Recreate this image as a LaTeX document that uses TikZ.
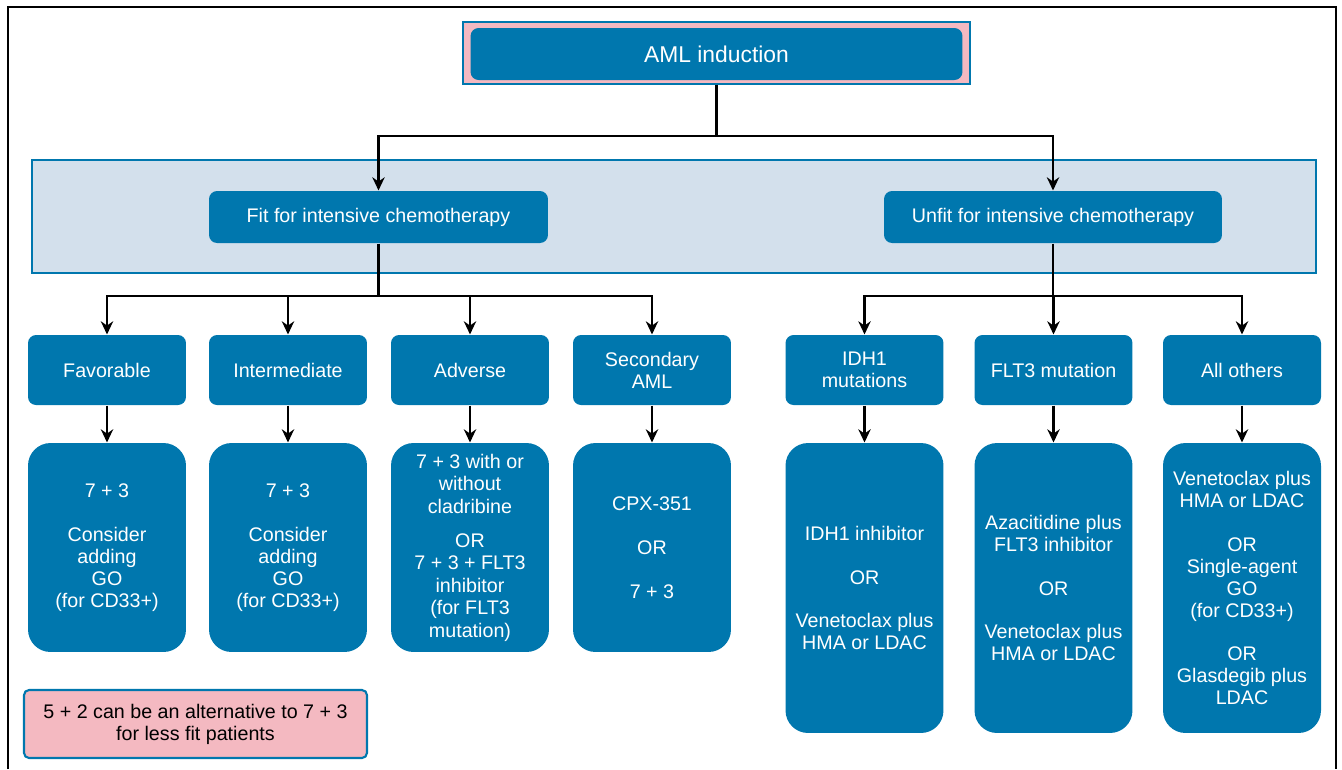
\documentclass[tikz,border=0pt]{standalone}
\usepackage{fontspec}
\setmainfont{Liberation Sans}
\usetikzlibrary{arrows.meta}
\definecolor{amlblue}{HTML}{0077AE}
\definecolor{amlpink}{HTML}{F4B9C1}
\definecolor{amlband}{HTML}{D3E0EC}

\begin{document}
\begin{tikzpicture}[x=0.02cm, y=-0.02cm, >={Stealth[length=7.5pt, width=7pt]}, semithick,
    box/.style={fill=amlblue, text=white, rounded corners=0.16cm, align=center,
        inner sep=0pt, font=\fontsize{11.2}{12.5}\selectfont},
    catbox/.style={box, minimum width=3.16cm, minimum height=1.4cm},
    treatbox/.style={box, minimum width=3.16cm, rounded corners=0.45cm},
    conn/.style={line width=1.4pt}]
    \useasboundingbox (0, 0) rectangle (1342, 769);
    \draw[line width=0.9pt] (8, 769) -- (8, 7) -- (1336, 7) -- (1336, 769);
    \node[fill=amlpink, draw=amlblue, line width=0.8pt, minimum width=10.14cm, minimum height=1.24cm] (amlframe) at (716.5, 53) {};
    \node[box, minimum width=9.84cm, minimum height=1.04cm, font=\fontsize{13}{15}\selectfont] (aml) at (716.5, 54) {AML induction};
    \fill[amlband] (32, 160) rectangle (1316, 273);
    \draw[amlblue, line width=1.2pt] (32, 160) rectangle (1316, 273);
    \node[box, minimum width=6.78cm, minimum height=1.04cm] (fit) at (378.5, 217) {Fit for intensive chemotherapy};
    \node[box, minimum width=6.76cm, minimum height=1.04cm] (unfit) at (1053, 217) {Unfit for intensive chemotherapy};
    \coordinate (amlsplit) at (716.5, 136);
    \draw[conn] (amlframe.south) -- (amlsplit);
    \draw[conn, ->] (amlsplit) -| (fit.north);
    \draw[conn, ->] (amlsplit) -| (unfit.north);
    \node[catbox] (fav) at (107, 370) {Favorable};
    \node[catbox] (inter) at (288, 370) {Intermediate};
    \node[catbox] (adv) at (470, 370) {Adverse};
    \node[catbox] (sec) at (652, 370) {Secondary\\AML};
    \node[catbox] (idh) at (864.5, 370) {IDH1\\mutations};
    \node[catbox] (flt) at (1053.5, 370) {FLT3 mutation};
    \node[catbox] (others) at (1242, 370) {All others};
    \coordinate (fitsplit) at (378.5, 296);
    \coordinate (unfitsplit) at (1053, 296);
    \draw[conn] (fit.south) -- (fitsplit);
    \draw[conn] (unfit.south) -- (unfitsplit);
    \foreach \n in {fav, inter, adv, sec}
        \draw[conn, ->] (fitsplit) -| (\n.north);
    \foreach \n in {idh, flt, others}
        \draw[conn, ->] (unfitsplit) -| (\n.north);
    \node[treatbox, minimum height=4.18cm] (favtx) at (107, 547.5) {7 + 3\\[12.5pt]Consider\\adding\\GO\\(for CD33+)};
    \node[treatbox, minimum height=4.18cm] (intertx) at (288, 547.5) {7 + 3\\[12.5pt]Consider\\adding\\GO\\(for CD33+)};
    \node[treatbox, minimum height=4.18cm, font=\fontsize{11.2}{12.8}\selectfont] (advtx) at (470, 547.5) {7 + 3 with or\\without\\cladribine\\[6.5pt]OR\\7 + 3 + FLT3\\inhibitor\\(for FLT3\\mutation)};
    \node[treatbox, minimum height=4.18cm] (sectx) at (652, 547.5) {CPX-351\\[12.5pt]OR\\[12.5pt]7 + 3};
    \node[treatbox, minimum height=5.8cm] (idhtx) at (864.5, 588) {IDH1 inhibitor\\[12.5pt]OR\\[12.5pt]Venetoclax plus\\HMA or LDAC};
    \node[treatbox, minimum height=5.8cm] (flttx) at (1053.5, 588) {Azacitidine plus\\FLT3 inhibitor\\[12.5pt]OR\\[12.5pt]Venetoclax plus\\HMA or LDAC};
    \node[treatbox, minimum height=5.8cm] (otherstx) at (1242, 588) {Venetoclax plus\\HMA or LDAC\\[12.5pt]OR\\Single-agent\\GO\\(for CD33+)\\[12.5pt]OR\\Glasdegib plus\\LDAC};
    \foreach \n in {fav, inter, adv, sec, idh, flt, others}
        \draw[conn, ->] (\n.south) -- (\n tx.north);
    \node[fill=amlpink, draw=amlblue, line width=1.2pt, rounded corners=0.1cm, align=center,
        minimum width=6.86cm, minimum height=1.36cm, font=\fontsize{11.2}{12.5}\selectfont] (note) at (195.5, 724)
        {5 + 2 can be an alternative to 7 + 3\\for less fit patients};
\end{tikzpicture}
\end{document}
